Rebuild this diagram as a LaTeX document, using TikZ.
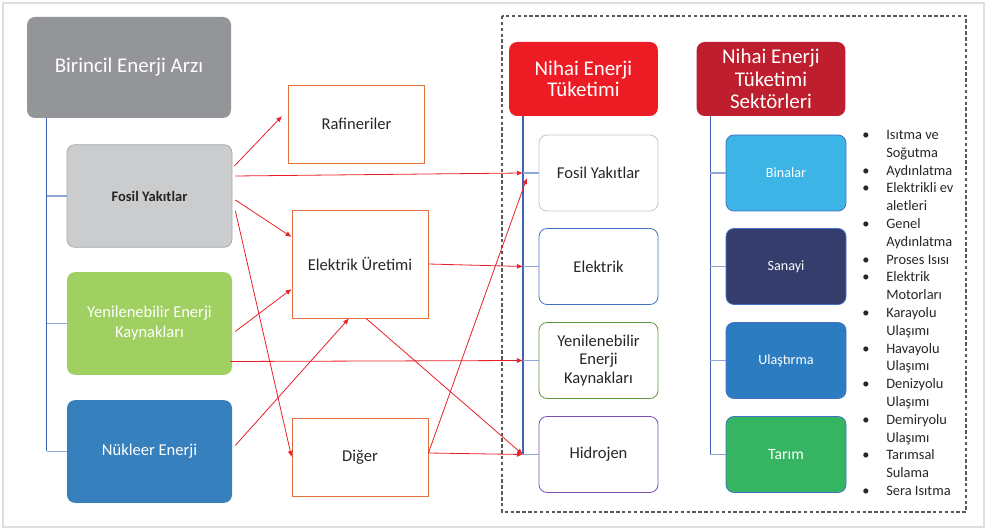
\documentclass[tikz,border=0pt]{standalone}
\usepackage{fontspec}
\setmainfont{Carlito}
\usepackage{xcolor}
\usetikzlibrary{arrows.meta,positioning,calc}
\definecolor{arzgray}{HTML}{939598}
\definecolor{fosgray}{HTML}{CBCCCE}
\definecolor{fosline}{HTML}{A7A9AC}
\definecolor{yengreen}{HTML}{A0CF62}
\definecolor{nukblue}{HTML}{3780BE}
\definecolor{midorange}{HTML}{E2703A}
\definecolor{flowred}{HTML}{E8202A}
\definecolor{netred}{HTML}{ED1C24}
\definecolor{setred}{HTML}{BE1E2D}
\definecolor{trunkblue}{HTML}{3F63AE}
\definecolor{twigblue}{HTML}{8EA7D4}
\definecolor{txtdark}{HTML}{262626}
\definecolor{eleblue}{HTML}{4472C4}
\definecolor{yekgreen}{HTML}{5E9A3B}
\definecolor{hidpurple}{HTML}{7F4FB5}
\definecolor{binblue}{HTML}{3CB4E5}
\definecolor{sannavy}{HTML}{343D6B}
\definecolor{ulablue}{HTML}{2B7CC1}
\definecolor{targreen}{HTML}{35B562}
\newcommand{\bitem}{\makebox[18pt][l]{\textbullet}}
\newcommand{\bcont}{\hspace*{18pt}}

\begin{document}
\begin{tikzpicture}[x=0.75pt,y=-0.75pt,
  box/.style={rounded corners=6pt, align=center, inner sep=2pt},
  srcbox/.style={box, minimum width=123.75pt, minimum height=77pt, text=white,
    font=\fontsize{12.4}{15}\selectfont},
  midbox/.style={draw=midorange, line width=0.6pt, fill=white, text=txtdark, align=center,
    minimum width=102pt, font=\fontsize{12.4}{15}\selectfont},
  headbox/.style={box, minimum width=111.5pt, minimum height=55.5pt, text=white},
  usebox/.style={box, fill=white, line width=0.6pt, minimum width=89.25pt, minimum height=57pt,
    text=txtdark, font=\fontsize{12.4}{14}\selectfont},
  secbox/.style={box, draw=eleblue, line width=0.6pt, minimum width=90pt, minimum height=57pt,
    text=white, font=\fontsize{10.6}{13}\selectfont},
  flow/.style={draw=flowred, line width=0.6pt, -{Latex[length=4.5pt,width=3.8pt]}},
  trunk/.style={draw=trunkblue, line width=0.9pt},
  twig/.style={draw=twigblue, line width=1.3pt}]
  \useasboundingbox (0,0) rectangle (992,530);
  \draw[gray!25, line width=1.5pt] (3,3) rectangle (984,527);
  \draw[black!65, line width=0.8pt, dash pattern=on 2.6pt off 1.8pt] (502,16) rectangle (966,512);

  % birincil enerji arzi
  \node[box, fill=arzgray, text=white, minimum width=153pt, minimum height=75.75pt,
        font=\fontsize{15.7}{18}\selectfont] (bea) at (129,67.5) {Birincil Enerji Arzı};
  \node[srcbox, draw=fosline, line width=0.6pt, fill=fosgray, text=txtdark,
        font=\fontsize{10.9}{13}\selectfont\bfseries] (fos) at (149.5,196) {Fosil Yakıtlar};
  \node[srcbox, fill=yengreen] (yen) at (149.5,323.5) {Yenilenebilir Enerji\\Kaynakları};
  \node[srcbox, fill=nukblue] (nuk) at (149.5,451.5) {Nükleer Enerji};
  \coordinate (lbus) at ($(bea.south west)+(20,0)$);
  \draw[trunk] (lbus) -- (lbus |- nuk.west);
  \foreach \n in {fos,yen,nuk}
    \draw[twig] (lbus |- \n.west) -- (\n.west);

  % donusum
  \node[midbox, minimum height=58.5pt] (raf) at (356.5,124) {Rafineriler};
  \node[midbox, minimum height=81pt] (elu) at (360,264) {Elektrik Üretimi};
  \node[midbox, minimum height=58.5pt] (dig) at (360,457) {Diğer};

  % nihai enerji tuketimi
  \node[headbox, fill=netred, font=\fontsize{15.7}{16}\selectfont] (net) at (583.5,79) {Nihai Enerji\\Tüketimi};
  \node[usebox, draw=gray!45] (fyk) at (598.5,173) {Fosil Yakıtlar};
  \node[usebox, draw=eleblue] (ele) at (598.5,266.5) {Elektrik};
  \node[usebox, draw=yekgreen] (yek) at (598.5,360.5) {Yenilenebilir\\Enerji\\Kaynakları};
  \node[usebox, draw=hidpurple] (hid) at (598.5,454.5) {Hidrojen};
  \coordinate (nbus) at ($(net.south west)+(14,0)$);
  \draw[trunk] (nbus) -- (nbus |- hid.west);
  \foreach \n in {fyk,ele,yek,hid}
    \draw[twig] (nbus |- \n.west) -- (\n.west);

  % sektorler
  \node[headbox, fill=setred, font=\fontsize{15.7}{17}\selectfont] (nets) at (771,79) {Nihai Enerji\\Tüketimi\\Sektörleri};
  \node[secbox, fill=binblue] (bin) at (786,173) {Binalar};
  \node[secbox, fill=sannavy] (san) at (786,266.5) {Sanayi};
  \node[secbox, fill=ulablue] (ula) at (786,360.5) {Ulaştırma};
  \node[secbox, fill=targreen, font=\fontsize{11.8}{14}\selectfont] (tar) at (786,454.5) {Tarım};
  \coordinate (sbus) at ($(nets.south west)+(14,0)$);
  \draw[trunk] (sbus) -- (sbus |- tar.west);
  \foreach \n in {bin,san,ula,tar}
    \draw[twig] (sbus |- \n.west) -- (\n.west);
  \node[anchor=north west, inner sep=0pt, align=left, text=txtdark,
        font=\fontsize{10.8}{13.35}\selectfont] (lst) at (862,130) {%
    \bitem Isıtma ve\\ \bcont Soğutma\\ \bitem Aydınlatma\\ \bitem Elektrikli ev\\ \bcont aletleri\\
    \bitem Genel\\ \bcont Aydınlatma\\ \bitem Proses Isısı\\ \bitem Elektrik\\ \bcont Motorları\\
    \bitem Karayolu\\ \bcont Ulaşımı\\ \bitem Havayolu\\ \bcont Ulaşımı\\ \bitem Denizyolu\\ \bcont Ulaşımı\\
    \bitem Demiryolu\\ \bcont Ulaşımı\\ \bitem Tarımsal\\ \bcont Sulama\\ \bitem Sera Isıtma};

  % akislar
  \draw[flow] ($(fos.east)+(2,-30)$) -- ($(raf.west)+(-6,-8)$);
  \draw[flow] ($(fos.east)+(3,-20)$) -- (fyk.west -| nbus);
  \draw[flow] ($(fos.east)+(3,4)$) -- ($(elu.west)+(0,-27)$);
  \draw[flow] ($(fos.east)+(3,15)$) -- (dig.west);
  \draw[flow] ($(yen.east)+(3,8)$) -- ($(elu.west)+(0,25)$);
  \draw[flow] ($(yen.east)+(-2,38)$) -- (yek.west -| nbus);
  \draw[flow] ($(nuk.east)+(3,-6)$) -- ($(elu.south)+(-11,0)$);
  \draw[flow] (elu.east) -- (ele.west -| nbus);
  \draw[flow] ($(elu.south)+(6,0)$) -- (hid.west -| nbus);
  \draw[flow] ($(dig.east)+(0,-4)$) -- ($(fyk.west -| nbus)+(4,5)$);
  \draw[flow] ($(dig.east)+(0,-4)$) -- (hid.west -| nbus);
\end{tikzpicture}
\end{document}
